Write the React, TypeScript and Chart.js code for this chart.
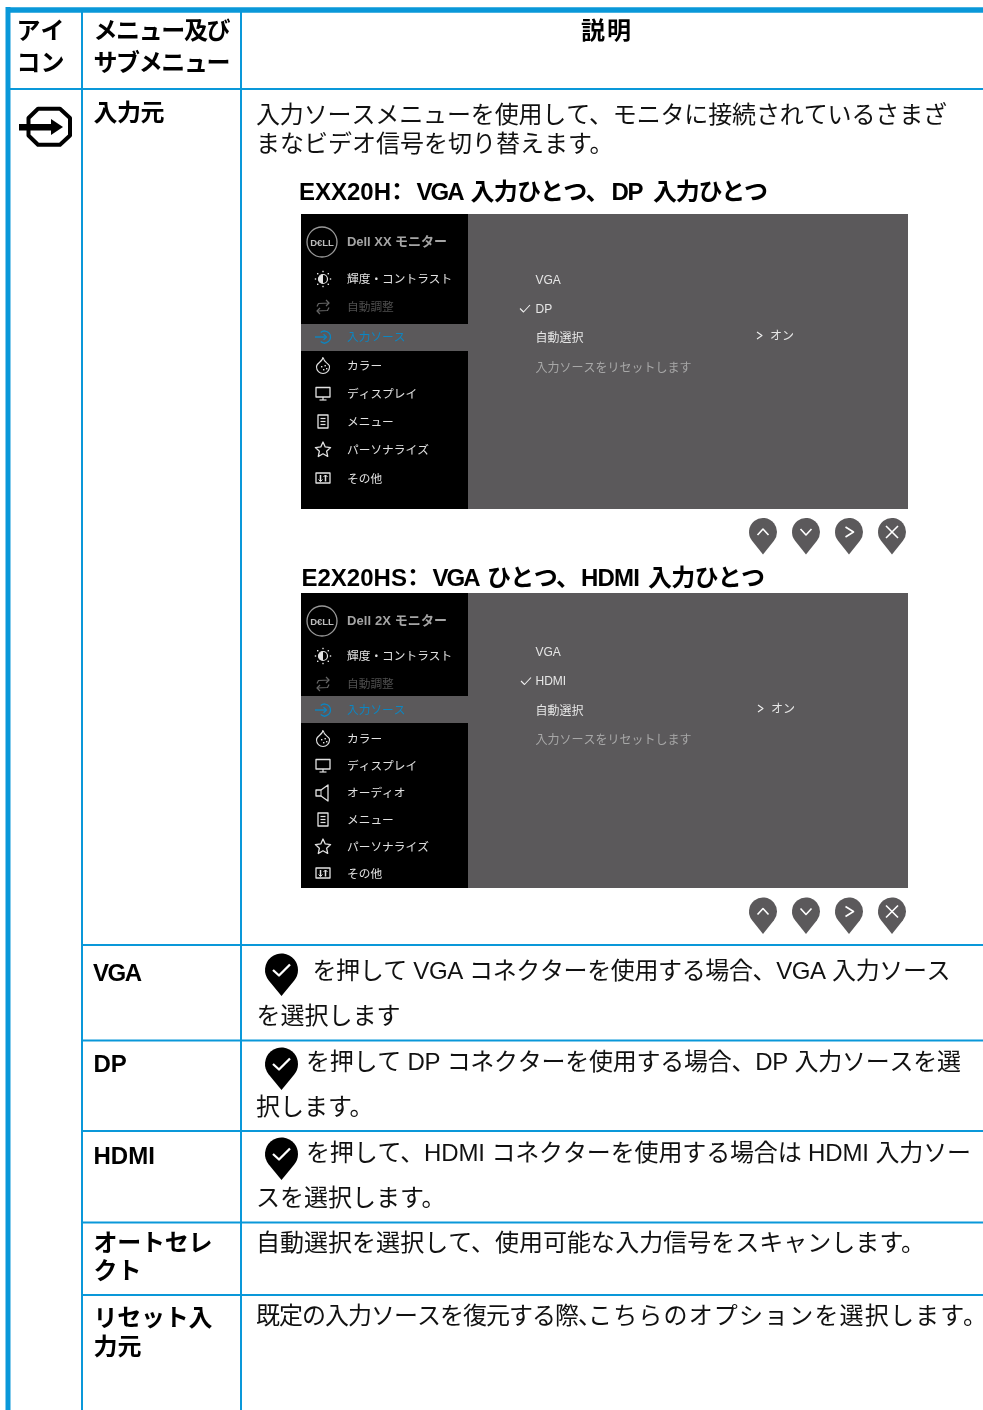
import React, { useEffect, useRef } from "react";
import { Chart, registerables } from "chart.js";

Chart.register(...registerables);

const headerIcon = ["アイ", "コン"];
const headerMenu = ["メニュー及び", "サブメニュー"];
const headerDesc = "説明";
const inputTitle = "入力元";
const inputIntro = ["入力ソースメニューを使用して、モニタに接続されているさまざ", "まなビデオ信号を切り替えます。"];
const modelA = ["EXX20H", "：", "VGA", "入力ひとつ、", "DP", "入力ひとつ"];
const modelB = ["E2X20HS", "：", "VGA", "ひとつ、", "HDMI", "入力ひとつ"];
const osdTitleA = "Dell XX モニター";
const osdTitleB = "Dell 2X モニター";
const menuA = ["輝度・コントラスト", "自動調整", "入力ソース", "カラー", "ディスプレイ", "メニュー", "パーソナライズ", "その他"];
const menuB = ["輝度・コントラスト", "自動調整", "入力ソース", "カラー", "ディスプレイ", "オーディオ", "メニュー", "パーソナライズ", "その他"];
const iconsA = ["sun", "loop", "input", "drop", "monitor", "doc", "star", "sliders"];
const iconsB = ["sun", "loop", "input", "drop", "monitor", "speaker", "doc", "star", "sliders"];
const subA = ["VGA", "DP", "自動選択", "入力ソースをリセットします"];
const subB = ["VGA", "HDMI", "自動選択", "入力ソースをリセットします"];
const onLabel = "オン";
const rowLabels = ["VGA", "DP", "HDMI", "オートセレ", "クト", "リセット入", "力元"];
const rowText = [
  "を押して VGA コネクターを使用する場合、VGA 入力ソース",
  "を選択します",
  "を押して DP コネクターを使用する場合、DP 入力ソースを選",
  "択します。",
  "を押して、HDMI コネクターを使用する場合は HDMI 入力ソー",
  "スを選択します。",
  "自動選択を選択して、使用可能な入力信号をスキャンします。",
  "既定の入力ソースを復元する際、",
  "こちらのオプションを選択します。",
];

const W = 983;
const H = 1410;
const BLUE = "#0A98D9";
const SANS = '"Liberation Sans","Noto Sans CJK JP",sans-serif';

const hRules = [89, 945, 1040.5, 1131, 1222.5, 1295];
const vRules = [82, 241];

function segment(x1: number, y1: number, x2: number, y2: number, w: number) {
  return {
    data: [{ x: x1, y: y1 }, { x: x2, y: y2 }],
    showLine: true,
    borderColor: BLUE,
    borderWidth: w,
    pointRadius: 0,
    clip: false as const,
  };
}

const pagePlugin = {
  id: "page",
  afterDatasetsDraw(chart: any) {
    const ctx: CanvasRenderingContext2D = chart.ctx;
    const X = (v: number) => chart.scales.x.getPixelForValue(v);
    const Y = (v: number) => chart.scales.y.getPixelForValue(v);

    const text = (s: string, x: number, y: number, font: string, color: string, width?: number, align: CanvasTextAlign = "left") => {
      ctx.save();
      ctx.font = font;
      ctx.fillStyle = color;
      ctx.textAlign = align;
      ctx.textBaseline = "alphabetic";
      if (width) {
        (ctx as any).letterSpacing = "0px";
        const m = ctx.measureText(s).width;
        (ctx as any).letterSpacing = `${(width - m) / Math.max(1, s.length - 1)}px`;
      }
      ctx.fillText(s, X(x), Y(y));
      ctx.restore();
    };
    const rect = (x1: number, y1: number, x2: number, y2: number, c: string) => {
      ctx.fillStyle = c;
      ctx.fillRect(X(x1), Y(y1), X(x2) - X(x1), Y(y2) - Y(y1));
    };
    const poly = (pts: number[][], c: string, w: number, close = false) => {
      ctx.beginPath();
      pts.forEach((p, i) => (i ? ctx.lineTo(X(p[0]), Y(p[1])) : ctx.moveTo(X(p[0]), Y(p[1]))));
      if (close) ctx.closePath();
      ctx.strokeStyle = c;
      ctx.lineWidth = w;
      ctx.lineJoin = "round";
      ctx.stroke();
    };
    const pin = (cx: number, cy: number, r: number, tip: number, c: string) => {
      const a = Math.acos(r / (tip - cy));
      ctx.beginPath();
      ctx.arc(X(cx), Y(cy), r, Math.PI / 2 + a, Math.PI / 2 - a);
      ctx.lineTo(X(cx), Y(tip));
      ctx.closePath();
      ctx.fillStyle = c;
      ctx.fill();
    };

    const icon = (name: string, cx: number, cy: number) => {
      const c = "#e2e2e2";
      if (name === "sun") {
        ctx.beginPath();
        ctx.arc(X(cx), Y(cy), 4.5, 0, Math.PI * 2);
        ctx.strokeStyle = c;
        ctx.lineWidth = 1.2;
        ctx.stroke();
        ctx.beginPath();
        ctx.arc(X(cx), Y(cy), 4.5, Math.PI / 2, -Math.PI / 2);
        ctx.fillStyle = c;
        ctx.fill();
        for (let i = 0; i < 8; i++) {
          const t = (i * Math.PI) / 4;
          ctx.fillRect(X(cx + Math.cos(t) * 7.5) - 0.7, Y(cy + Math.sin(t) * 7.5) - 0.7, 1.4, 1.4);
        }
      } else if (name === "loop") {
        const d = "#666";
        poly([[cx - 6, cy - 0.5], [cx - 4.5, cy - 3.5], [cx + 6, cy - 4], [cx + 3, cy - 7]], d, 1.2);
        poly([[cx + 6, cy - 4], [cx + 3, cy - 1]], d, 1.2);
        poly([[cx + 6, cy + 0.5], [cx + 4.5, cy + 3.5], [cx - 6, cy + 4], [cx - 3, cy + 7]], d, 1.2);
        poly([[cx - 6, cy + 4], [cx - 3, cy + 1]], d, 1.2);
      } else if (name === "input") {
        const b = "#0C86C2";
        ctx.beginPath();
        ctx.arc(X(cx + 1.5), Y(cy), 6, -Math.PI * 0.72, Math.PI * 0.72);
        ctx.strokeStyle = b;
        ctx.lineWidth = 1.3;
        ctx.stroke();
        poly([[cx - 8, cy], [cx + 3, cy]], b, 1.4);
        poly([[cx + 0.5, cy - 2.8], [cx + 3.5, cy], [cx + 0.5, cy + 2.8]], b, 1.2);
      } else if (name === "drop") {
        ctx.beginPath();
        ctx.moveTo(X(cx), Y(cy - 8));
        ctx.bezierCurveTo(X(cx), Y(cy - 3), X(cx - 7), Y(cy - 2), X(cx - 6.5), Y(cy + 2));
        ctx.arc(X(cx), Y(cy + 2), 6.5, Math.PI, -0.2, true);
        ctx.bezierCurveTo(X(cx + 5), Y(cy - 2), X(cx + 1), Y(cy - 2), X(cx), Y(cy - 8));
        ctx.strokeStyle = c;
        ctx.lineWidth = 1.1;
        ctx.stroke();
        [[-2, 1], [1.5, 0], [0, 4], [3, 3]].forEach((p) => {
          ctx.fillStyle = c;
          ctx.fillRect(X(cx + p[0]), Y(cy + p[1]), 1.4, 1.4);
        });
      } else if (name === "monitor") {
        poly([[cx - 7, cy - 6.5], [cx + 7, cy - 6.5], [cx + 7, cy + 3], [cx - 7, cy + 3]], c, 1.3, true);
        poly([[cx, cy + 3], [cx, cy + 6]], c, 1.2);
        poly([[cx - 3.5, cy + 6], [cx + 3.5, cy + 6]], c, 1.2);
      } else if (name === "doc") {
        poly([[cx - 5, cy - 7], [cx + 5, cy - 7], [cx + 5, cy + 6], [cx - 5, cy + 6]], c, 1.3, true);
        [-3.5, -0.5, 2.5].forEach((o) => poly([[cx - 2.5, cy + o], [cx + 2.5, cy + o]], c, 1.2));
      } else if (name === "star") {
        const pts: number[][] = [];
        for (let i = 0; i < 10; i++) {
          const r = i % 2 ? 3.8 : 8;
          const t = -Math.PI / 2 + (i * Math.PI) / 5;
          pts.push([cx + Math.cos(t) * r, cy + Math.sin(t) * r]);
        }
        poly(pts, c, 1.3, true);
      } else if (name === "sliders") {
        poly([[cx - 7, cy - 6], [cx + 7, cy - 6], [cx + 7, cy + 4], [cx - 7, cy + 4]], c, 1.3, true);
        poly([[cx - 2.5, cy - 4], [cx - 2.5, cy + 2.5]], c, 1.5);
        poly([[cx + 2.5, cy - 4], [cx + 2.5, cy + 2.5]], c, 1.5);
        poly([[cx - 4.5, cy + 0.5], [cx - 2.5, cy + 2.5], [cx - 0.5, cy + 0.5]], c, 1);
        poly([[cx + 0.5, cy - 2], [cx + 2.5, cy - 4], [cx + 4.5, cy - 2]], c, 1);
      } else if (name === "speaker") {
        poly([[cx - 7, cy - 3], [cx - 2, cy - 3], [cx + 5, cy - 8], [cx + 5, cy + 8], [cx - 2, cy + 3], [cx - 7, cy + 3]], c, 1.3, true);
        poly([[cx - 2, cy - 3], [cx - 2, cy + 3]], c, 1);
      }
    };

    const osd = (top: number, title: string, menu: string[], icons: string[], menuY: number[], sub: string[], subY: number[], selTop: number, onX: number, onY: number, checkY: number, checkX: number) => {
      rect(301, top, 908, top + 295, "#5B595B");
      rect(301, top, 468, selTop, "#000");
      rect(301, selTop + 27, 468, top + 295, "#000");
      ctx.beginPath();
      ctx.arc(X(322), Y(top + 28), 15, 0, Math.PI * 2);
      ctx.strokeStyle = "#9a9a9a";
      ctx.lineWidth = 1.3;
      ctx.stroke();
      text("D€LL", 322, top + 31.5, `700 9.5px ${SANS}`, "#bdbdbd", undefined, "center");
      text(title, 347, top + 32, `700 13px ${SANS}`, "#a5a5a5", 100);
      menu.forEach((m, i) => {
        const col = i === 1 ? "#4f4f4f" : i === 2 ? "#0C86C2" : "#e2e2e2";
        text(m, 347, menuY[i] + 4.5, `400 11.7px ${SANS}`, col);
        icon(icons[i], 323, menuY[i] + (icons[i] === "drop" ? 0 : 1));
      });
      sub.forEach((s, i) => {
        const col = i === 3 ? "#a8a8a8" : "#e6e6e6";
        text(s, 535.5, subY[i] + 4.5, `400 12px ${SANS}`, col);
      });
      poly([[checkX, checkY], [checkX + 3.5, checkY + 3.5], [checkX + 10, checkY - 3.5]], "#eee", 1.1);
      poly([[onX, onY - 3.5], [onX + 5, onY], [onX, onY + 3.5]], "#eee", 1.1);
      text(onLabel, onX + 13, onY + 4.5, `400 12px ${SANS}`, "#e6e6e6");
    };

    // OSD screens
    osd(214, osdTitleA, menuA, iconsA, [278, 306, 336, 365, 393, 421, 449, 478], subA, [279.5, 308, 337, 367], 324, 757, 335.5, 308.5, 520);
    osd(593, osdTitleB, menuB, iconsB, [655, 683, 709, 738, 765, 792, 819, 846, 873], subB, [651, 680, 710, 739], 696, 758, 708.5, 681, 521);

    // Navigation pins
    [532, 911.5].forEach((cy) => {
      [763, 806, 849, 892].forEach((cx, i) => {
        pin(cx, cy, 14, cy + 22.5, "#5B595B");
        const w = "#fff";
        if (i === 0) poly([[cx - 5.5, cy + 3], [cx, cy - 3], [cx + 5.5, cy + 3]], w, 1.6);
        if (i === 1) poly([[cx - 5.5, cy - 3], [cx, cy + 3], [cx + 5.5, cy - 3]], w, 1.6);
        if (i === 2) poly([[cx - 3.5, cy - 5], [cx + 4.5, cy], [cx - 3.5, cy + 5]], w, 1.6);
        if (i === 3) {
          poly([[cx - 6, cy - 6], [cx + 6, cy + 6]], w, 1.6);
          poly([[cx + 6, cy - 6], [cx - 6, cy + 6]], w, 1.6);
        }
      });
    });

    // Input icon
    poly([[38, 108.7], [60, 108.7], [70, 118], [70, 135.5], [60, 144.7], [38, 144.7], [28.5, 135.5], [28.5, 118]], "#000", 4, true);
    rect(19, 124, 52, 130.5, "#000");
    ctx.beginPath();
    ctx.moveTo(X(51), Y(119));
    ctx.lineTo(X(63), Y(127));
    ctx.lineTo(X(51), Y(135));
    ctx.closePath();
    ctx.fillStyle = "#000";
    ctx.fill();

    // Check pins
    [970, 1064, 1154].forEach((cy) => {
      pin(281.5, cy, 16.5, cy + 26, "#000");
      poly([[273, cy], [279, cy + 5.5], [290, cy - 5.5]], "#fff", 2.3);
    });

    // Header
    const B = `700 24px ${SANS}`;
    const R = `400 24px ${SANS}`;
    const k = "#000";
    const g = "#111";
    text(headerIcon[0], 16.5, 39, B, k);
    text(headerIcon[1], 16.5, 71, B, k);
    text(headerMenu[0], 93.5, 39, B, k, 137);
    text(headerMenu[1], 93.5, 71, B, k, 137);
    text(headerDesc, 581, 39, B, k, 50);
    text(inputTitle, 93.5, 121, B, k, 71);
    text(inputIntro[0], 256, 123, R, g, 691);
    text(inputIntro[1], 256, 152, R, g);

    text(modelA[0], 299, 200, B, k);
    text(modelA[1], 385, 200, B, k);
    text(modelA[2], 416.5, 200, B, k, 48);
    text(modelA[3], 470.5, 200, B, k, 139);
    text(modelA[4], 611.5, 200, B, k, 32);
    text(modelA[5], 653, 200, B, k, 115);

    text(modelB[0], 301.5, 586, B, k);
    text(modelB[1], 401, 586, B, k);
    text(modelB[2], 432.5, 586, B, k, 48);
    text(modelB[3], 487, 586, B, k, 93);
    text(modelB[4], 581, 586, B, k, 59);
    text(modelB[5], 648, 586, B, k, 117);

    // Rows
    text(rowLabels[0], 93, 981, B, k, 49);
    text(rowLabels[1], 93.5, 1072, B, k);
    text(rowLabels[2], 93.5, 1164, B, k);
    text(rowLabels[3], 93.5, 1251, B, k, 119);
    text(rowLabels[4], 93.5, 1279, B, k);
    text(rowLabels[5], 93.5, 1326, B, k, 119);
    text(rowLabels[6], 93.5, 1355, B, k);
    text(rowText[0], 312.5, 979, R, g, 638);
    text(rowText[1], 256.5, 1024, R, g);
    text(rowText[2], 306, 1070, R, g, 655);
    text(rowText[3], 256, 1115, R, g);
    text(rowText[4], 306, 1161, R, g, 665);
    text(rowText[5], 256, 1206, R, g);
    text(rowText[6], 256, 1251, R, g, 669);
    text(rowText[7], 256, 1324, R, g, 346);
    text(rowText[8], 588, 1324, R, g, 399);
  },
};

export default function App() {
  const ref = useRef<HTMLCanvasElement>(null);
  useEffect(() => {
    document.body.style.margin = "0";
    document.body.style.background = "#fff";
    const chart = new Chart(ref.current!, {
      type: "scatter",
      data: {
        datasets: [
          segment(6, 10, W, 10, 5.5),
          segment(8, 7, 8, H, 5),
          ...vRules.map((x) => segment(x, 10, x, H, 2)),
          segment(8, hRules[0], W, hRules[0], 2),
          ...hRules.slice(1).map((y) => segment(82, y, W, y, 2)),
        ],
      },
      options: {
        responsive: false,
        animation: false,
        layout: { padding: 0 },
        plugins: { legend: { display: false }, tooltip: { enabled: false } },
        scales: {
          x: { type: "linear", min: 0, max: W, display: false },
          y: { type: "linear", min: 0, max: H, reverse: true, display: false },
        },
      },
      plugins: [pagePlugin],
    });
    return () => chart.destroy();
  }, []);
  return <canvas ref={ref} width={W} height={H} style={{ display: "block", width: W, height: H }} />;
}
